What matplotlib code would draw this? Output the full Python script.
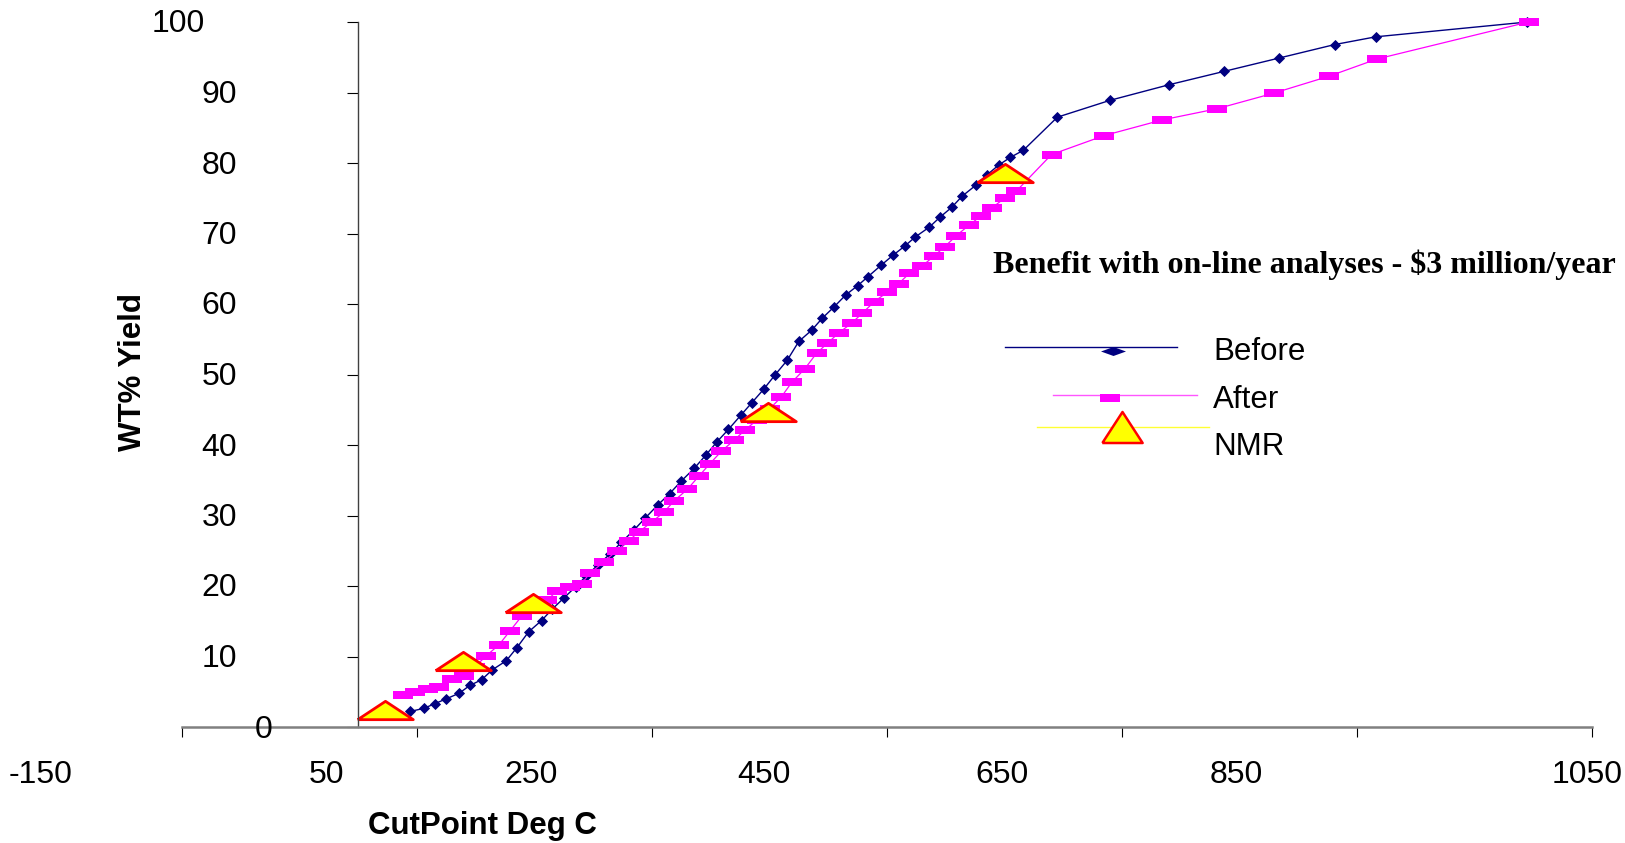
import matplotlib
matplotlib.use("Agg")
import matplotlib.pyplot as plt
from matplotlib.lines import Line2D

# Cut point temperature (deg C) and cumulative yield (wt%)
before_x = [44, 56, 65, 75, 86, 95, 105, 114, 126, 135,
            145, 156, 165, 175, 185, 194, 204, 214, 224, 235,
            244, 255, 265, 275, 286, 296, 305, 315, 326, 335,
            345, 355, 365, 375, 386, 395, 405, 415, 425, 434,
            445, 455, 465, 474, 486, 495, 505, 514, 526, 535,
            545, 555, 566, 595, 640, 690, 737, 784, 831, 866, 995]
before_y = [2.2, 2.65, 3.3, 4.0, 4.8, 5.9, 6.7, 8.1, 9.4, 11.25,
            13.5, 15.1, 16.7, 18.3, 19.9, 21.4, 23.0, 24.5, 26.2, 28.0,
            29.6, 31.5, 33.1, 34.9, 36.7, 38.6, 40.4, 42.2, 44.3, 46.0,
            47.9, 50.0, 52.0, 54.7, 56.3, 58.0, 59.6, 61.3, 62.6, 63.9,
            65.5, 66.9, 68.2, 69.5, 70.9, 72.3, 73.7, 75.3, 76.9, 78.3,
            79.7, 80.8, 81.8, 86.5, 88.9, 91.1, 93.0, 94.9, 96.8, 97.9, 100.0]

after_x = [38, 48, 59, 69, 80, 90, 99, 109, 120, 129,
           139, 150, 161, 169, 180, 190, 197, 209, 220, 230,
           239, 250, 260, 269, 280, 290, 299, 309, 320, 329,
           339, 350, 360, 369, 380, 390, 399, 409, 420, 429,
           439, 450, 460, 469, 480, 490, 499, 509, 520, 530,
           539, 550, 560, 590, 635, 684, 731, 779, 826, 867, 996]
after_y = [4.6, 4.9, 5.35, 5.7, 6.8, 7.3, 8.5, 10.1, 11.7, 13.6,
           15.7, 17.1, 18.0, 19.3, 19.8, 20.3, 21.8, 23.4, 25.0, 26.4,
           27.7, 29.1, 30.45, 32.1, 33.7, 35.6, 37.3, 39.1, 40.7, 42.1,
           43.5, 45.1, 46.8, 48.9, 50.8, 53.0, 54.4, 55.9, 57.3, 58.7,
           60.3, 61.65, 62.9, 64.35, 65.4, 66.8, 68.1, 69.7, 71.2, 72.5,
           73.6, 75.0, 76.0, 81.2, 83.9, 86.1, 87.7, 89.9, 92.3, 94.75, 100.0]

nmr_x = [23, 89, 149, 349, 550]
nmr_y = [2.45, 9.4, 17.6, 44.65, 78.65]

x_ticks = [-150, 50, 250, 450, 650, 850, 1050]
y_ticks = [0, 10, 20, 30, 40, 50, 60, 70, 80, 90, 100]
series_names = ["Before", "After", "NMR"]

W, H = 1625, 843
plt.rcParams['font.family'] = ['Liberation Sans', 'DejaVu Sans']


def fx(px):
    return px / W


def fy(py):
    return 1 - py / H


# Marker shapes (flat rectangle, squashed triangle, legend shapes)
rect = [(-1, -0.38), (1, -0.38), (1, 0.38), (-1, 0.38), (-1, -0.38)]
tri_flat = [(-1, -0.33), (1, -0.33), (0, 0.33), (-1, -0.33)]
tri_leg = [(-1, -0.77), (1, -0.77), (0, 0.77), (-1, -0.77)]
dia_leg = [(0, -0.36), (1, 0), (0, 0.36), (-1, 0), (0, -0.36)]

fig = plt.figure(figsize=(W / 100, H / 100), dpi=100)
ax = fig.add_axes([fx(182), fy(727), (1592 - 182) / W, (727 - 22) / H])

ax.plot(before_x, before_y, color='#000080', lw=1.0, marker='D', ms=5.3,
        mfc='#000080', mec='#000080', mew=0.6, clip_on=False)
ax.plot(after_x, after_y, color='#FF00FF', lw=0.9, marker=rect, ms=14.5,
        mfc='#FF00FF', mew=0, clip_on=False)
ax.plot(nmr_x, nmr_y, ls='none', marker=tri_flat, ms=40,
        mfc='#FFFF00', mec='#FF0000', mew=2.0, clip_on=False)

ax.set_xlim(-150, 1050)
ax.set_ylim(0, 100)

# Axes: y axis crosses at x = 0
ax.spines['top'].set_visible(False)
ax.spines['right'].set_visible(False)
ax.spines['left'].set_position(('data', 0))
ax.spines['left'].set_color('#404040')
ax.spines['left'].set_linewidth(1.0)
ax.spines['bottom'].set_color('#808080')
ax.spines['bottom'].set_linewidth(1.8)
ax.set_xticks(x_ticks)
ax.set_yticks(y_ticks)
ax.tick_params(axis='x', direction='out', length=7.5, width=0.8,
               color='black', labelbottom=False)
ax.tick_params(axis='y', direction='out', length=8, width=0.8,
               color='black', labelleft=False)

# Tick labels placed where the original puts them
xlab_px = [40.5, 327, 531, 764, 1001.6, 1236.7, 1587]
for lab, px in zip(x_ticks, xlab_px):
    fig.text(fx(px), fy(775), str(lab), fontsize=23, ha='center', va='center')

for v in y_ticks:
    py = 727 - v * 7.05 + 2.5
    right = 237
    if v == 0:
        right = 272
    if v == 100:
        right = 205
    fig.text(fx(right), fy(py), str(v), fontsize=23, ha='right', va='center')

fig.text(fx(133), fy(372), 'WT% Yield', rotation=90, fontsize=22.5,
         fontweight='bold', ha='center', va='center')
fig.text(fx(482.5), fy(826), 'CutPoint Deg C', fontsize=22.5,
         fontweight='bold', ha='center', va='center')

fig.text(fx(993), fy(265), 'Benefit with on-line analyses - $3 million/year',
         family='Liberation Serif', fontweight='bold', fontsize=23,
         ha='left', va='center')

# Legend drawn by hand to follow the original layout
fig.add_artist(Line2D([fx(1005), fx(1177)], [fy(347), fy(347)],
                      transform=fig.transFigure, color='#000080', lw=1))
fig.add_artist(Line2D([fx(1112.7)], [fy(350.7)], transform=fig.transFigure,
                      marker=dia_leg, ms=18, mfc='#000080', mew=0, ls='none'))
fig.add_artist(Line2D([fx(1053), fx(1197)], [fy(395), fy(395)],
                      transform=fig.transFigure, color='#FF55FF', lw=1))
fig.add_artist(Line2D([fx(1109.7)], [fy(397.7)], transform=fig.transFigure,
                      marker=rect, ms=13.7, mfc='#FF00FF', mew=0, ls='none'))
fig.add_artist(Line2D([fx(1037), fx(1209)], [fy(427), fy(427)],
                      transform=fig.transFigure, color='#FFFF33', lw=1))
fig.add_artist(Line2D([fx(1122.3)], [fy(427)], transform=fig.transFigure,
                      marker=tri_leg, ms=29, mfc='#FFFF00', mec='#FF0000',
                      mew=1.8, ls='none'))

for name, py in zip(series_names, [351.7, 400, 446.7]):
    fig.text(fx(1213), fy(py), name, fontsize=22.5, ha='left', va='center')

fig.savefig('out.png', dpi=100)
